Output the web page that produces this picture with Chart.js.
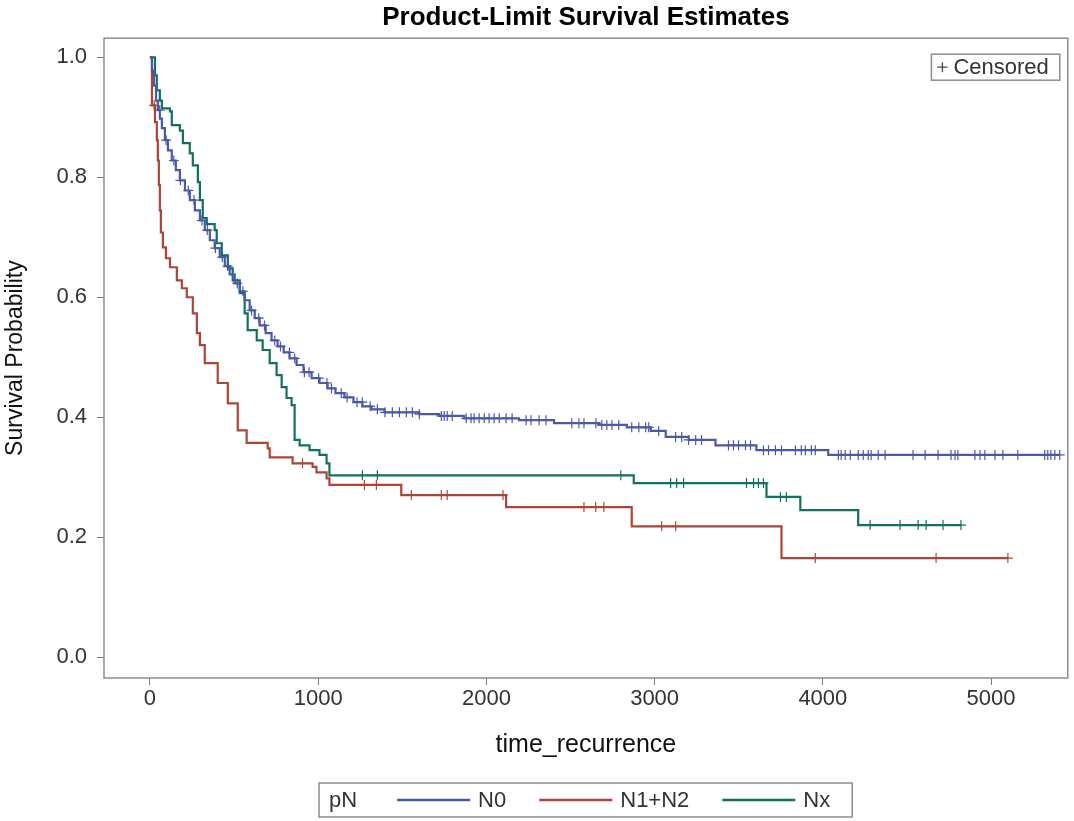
<!DOCTYPE html>
<html>
<head>
<meta charset="utf-8">
<title>Product-Limit Survival Estimates</title>
<script src="https://cdn.jsdelivr.net/npm/chart.js@4.4.1/dist/chart.umd.min.js"></script>
<style>
  html, body { margin: 0; padding: 0; background: #fff; }
  #wrap { width: 1074px; height: 821px; }
</style>
</head>
<body>
<div id="wrap"><canvas id="km" width="1074" height="821"></canvas></div>
<script>
// groups and tick labels
const groups = ["N0", "N1+N2", "Nx"];
const xTicks = [0, 1000, 2000, 3000, 4000, 5000];
const yTicks = [0.0, 0.2, 0.4, 0.6, 0.8, 1.0];

// N0 - step points (time, survival)
const n0Time = [0, 12, 24, 36, 47, 59, 71, 89, 107, 130, 154, 178, 208, 237, 267, 297, 326, 356, 385, 415,
  445, 474, 504, 534, 563, 593, 623, 652, 688, 723, 759, 795, 830, 872, 913, 961, 1008, 1056, 1103, 1156,
  1210, 1263, 1317, 1394, 1601, 1720, 1868, 2194, 2402, 2669, 2835, 2977, 3066, 3202, 3362, 3605, 4032, 5408];
const n0Surv = [1.0, 0.978, 0.953, 0.928, 0.912, 0.898, 0.882, 0.862, 0.845, 0.828, 0.812, 0.795, 0.778, 0.762, 0.745, 0.728, 0.712, 0.695, 0.682, 0.667,
  0.652, 0.638, 0.623, 0.61, 0.595, 0.578, 0.565, 0.553, 0.54, 0.528, 0.518, 0.508, 0.498, 0.487, 0.475, 0.465, 0.457, 0.448, 0.44, 0.433,
  0.425, 0.418, 0.413, 0.408, 0.405, 0.402, 0.398, 0.395, 0.39, 0.387, 0.383, 0.377, 0.367, 0.362, 0.353, 0.345, 0.337, 0.337];
const n0Censor = [58, 96, 142, 181, 228, 262, 309, 341, 389, 430, 462, 519, 553, 604, 647, 681, 742, 776, 829, 861,
  918, 946, 1003, 1052, 1079, 1137, 1172, 1231, 1262, 1309, 1352, 1397, 1441, 1483, 1524, 1560, 1601, 1732, 1749, 1767,
  1797, 1880, 1909, 1927, 1957, 1987, 2016, 2046, 2076, 2117, 2153, 2236, 2265, 2313, 2354, 2508, 2550, 2580, 2651, 2686,
  2716, 2746, 2787, 2864, 2906, 2947, 2965, 3024, 3125, 3161, 3202, 3244, 3279, 3439, 3469, 3499, 3540, 3570, 3647, 3677,
  3718, 3754, 3837, 3872, 3896, 3932, 3955, 4092, 4109, 4133, 4163, 4210, 4240, 4270, 4287, 4329, 4370, 4536, 4608, 4685,
  4762, 4786, 4803, 4904, 4934, 4963, 5023, 5070, 5159, 5319, 5337, 5355, 5379, 5408];

// N1+N2
const n12Time = [0, 12, 30, 41, 47, 53, 59, 65, 77, 95, 119, 160, 190, 219, 255, 279, 297, 326, 403, 463,
  522, 575, 700, 712, 848, 967, 990, 1050, 1067, 1494, 2117, 2864, 3754, 5100];
const n12Surv = [1.0, 0.92, 0.892, 0.862, 0.828, 0.787, 0.745, 0.708, 0.683, 0.665, 0.65, 0.628, 0.615, 0.6, 0.573, 0.54, 0.52, 0.49, 0.457, 0.423,
  0.378, 0.357, 0.348, 0.333, 0.323, 0.317, 0.308, 0.298, 0.287, 0.27, 0.25, 0.218, 0.165, 0.165];
const n12Censor = [25, 907, 1275, 1346, 1554, 1732, 1767, 2099, 2580, 2650, 2698, 3042, 3125, 3955, 4673, 5100];

// Nx
const nxTime = [0, 30, 41, 59, 71, 119, 130, 178, 196, 237, 255, 285, 297, 314, 338, 385, 397, 427, 463, 492,
  534, 563, 581, 635, 670, 712, 753, 783, 812, 842, 860, 890, 949, 1008, 1050, 1067, 2876, 3665, 3866, 4210, 4821];
const nxSurv = [1.0, 0.97, 0.945, 0.928, 0.915, 0.91, 0.887, 0.878, 0.857, 0.84, 0.82, 0.792, 0.762, 0.732, 0.722, 0.712, 0.69, 0.67, 0.648, 0.628,
  0.607, 0.573, 0.545, 0.528, 0.512, 0.49, 0.47, 0.45, 0.432, 0.42, 0.362, 0.353, 0.345, 0.337, 0.323, 0.303, 0.29, 0.267, 0.245, 0.22, 0.22];
const nxCensor = [1263, 1352, 2799, 3095, 3131, 3172, 3546, 3588, 3617, 3647, 3748, 3783, 4281, 4459, 4566, 4614, 4714, 4821];

const colors = ["#4a58a6", "#ad4536", "#12715c"];
const FONT = '"Liberation Sans", Arial, sans-serif';

function stepPoints(times, surv) {
  return times.map((t, i) => ({ x: t, y: surv[i] }));
}

// survival value of the step curve at time t (for placing the + marks)
function survAt(times, surv, t) {
  let s = surv[0];
  for (let i = 0; i < times.length; i++) {
    if (times[i] <= t) s = surv[i];
    else break;
  }
  return s;
}

function censorPoints(times, surv, cens) {
  return cens.map((t) => ({ x: t, y: survAt(times, surv, t) }));
}

const curves = [
  [n0Time, n0Surv, n0Censor],
  [n12Time, n12Surv, n12Censor],
  [nxTime, nxSurv, nxCensor],
];

const datasets = [];
curves.forEach((c, i) => {
  datasets.push({
    label: groups[i],
    data: stepPoints(c[0], c[1]),
    stepped: "before",
    borderColor: colors[i],
    borderWidth: 2.2,
    pointRadius: 0,
    fill: false,
  });
});
curves.forEach((c, i) => {
  datasets.push({
    label: groups[i] + " censored",
    data: censorPoints(c[0], c[1], c[2]),
    showLine: false,
    pointStyle: "cross",
    pointRadius: 5,
    pointBorderWidth: 1.2,
    borderColor: colors[i],
    backgroundColor: colors[i],
  });
});

// frame round the plot area
const frame = {
  id: "frame",
  beforeDatasetsDraw(chart) {
    const { ctx, chartArea: a } = chart;
    ctx.save();
    ctx.strokeStyle = "#8d8d8d";
    ctx.lineWidth = 1.5;
    ctx.strokeRect(a.left, a.top, a.right - a.left, a.bottom - a.top);
    ctx.restore();
  },
};

// "+ Censored" key, top right inside the plot
const censorKey = {
  id: "censorKey",
  afterDatasetsDraw(chart) {
    const { ctx, chartArea: a } = chart;
    ctx.save();
    ctx.font = "22px " + FONT;
    const label = "Censored";
    const w = ctx.measureText(label).width;
    const boxW = w + 33, boxH = 26;
    const x0 = a.right - 8 - boxW, y0 = a.top + 16;
    ctx.fillStyle = "#fff";
    ctx.fillRect(x0, y0, boxW, boxH);
    ctx.strokeStyle = "#8d8d8d";
    ctx.lineWidth = 1.5;
    ctx.strokeRect(x0, y0, boxW, boxH);
    const px = x0 + 11, py = y0 + boxH / 2;
    ctx.strokeStyle = "#444";
    ctx.lineWidth = 1.3;
    ctx.beginPath();
    ctx.moveTo(px - 5, py); ctx.lineTo(px + 5, py);
    ctx.moveTo(px, py - 5); ctx.lineTo(px, py + 5);
    ctx.stroke();
    ctx.fillStyle = "#333";
    ctx.textBaseline = "middle";
    ctx.fillText(label, x0 + 22, py + 1);
    ctx.restore();
  },
};

// group legend at the bottom
const groupKey = {
  id: "groupKey",
  afterDraw(chart) {
    const { ctx, chartArea: a } = chart;
    ctx.save();
    ctx.font = "22px " + FONT;
    const title = "pN";
    const sampleW = 73, gapTitle = 40, gapLabel = 8, gapItem = 33, padL = 10, padR = 22;
    let total = padL + ctx.measureText(title).width + gapTitle;
    groups.forEach((g, i) => {
      total += sampleW + gapLabel + ctx.measureText(g).width + (i < groups.length - 1 ? gapItem : padR);
    });
    const x0 = Math.round((a.left + a.right) / 2 - total / 2);
    const y0 = chart.height - 38, h = 34;
    ctx.strokeStyle = "#8d8d8d";
    ctx.lineWidth = 1.5;
    ctx.strokeRect(x0, y0, total, h);
    const cy = y0 + h / 2;
    ctx.fillStyle = "#333";
    ctx.textBaseline = "middle";
    let x = x0 + padL;
    ctx.fillText(title, x, cy + 1);
    x += ctx.measureText(title).width + gapTitle;
    groups.forEach((g, i) => {
      ctx.strokeStyle = colors[i];
      ctx.lineWidth = 2.5;
      ctx.beginPath();
      ctx.moveTo(x, cy);
      ctx.lineTo(x + sampleW, cy);
      ctx.stroke();
      x += sampleW + gapLabel;
      ctx.fillStyle = "#333";
      ctx.fillText(g, x, cy + 1);
      x += ctx.measureText(g).width + gapItem;
    });
    ctx.restore();
  },
};

new Chart(document.getElementById("km"), {
  type: "line",
  data: { datasets: datasets },
  options: {
    responsive: false,
    animation: false,
    layout: { padding: { left: 0, right: 4, top: 0, bottom: 60 } },
    plugins: {
      legend: { display: false },
      tooltip: { enabled: false },
      title: {
        display: true,
        text: "Product-Limit Survival Estimates",
        fullSize: false,
        color: "#000",
        font: { family: FONT, size: 26, weight: "bold" },
        padding: { top: 2, bottom: 5 },
      },
    },
    scales: {
      x: {
        type: "linear",
        min: -273,
        max: 5456,
        afterBuildTicks: (axis) => { axis.ticks = xTicks.map((v) => ({ value: v })); },
        afterFit: (axis) => { axis.height = 83; },
        border: { display: false },
        grid: { drawOnChartArea: false, drawTicks: true, tickLength: 7, color: "#777" },
        ticks: { color: "#333", padding: 1, maxRotation: 0, font: { family: FONT, size: 22 }, callback: (v) => v },
        title: { display: true, text: "time_recurrence", color: "#111", padding: { top: 2, bottom: 1 }, font: { family: FONT, size: 25 } },
      },
      y: {
        min: -0.035,
        max: 1.032,
        afterBuildTicks: (axis) => { axis.ticks = yTicks.map((v) => ({ value: v })); },
        afterFit: (axis) => { axis.width = 104; },
        border: { display: false },
        grid: { drawOnChartArea: false, drawTicks: true, tickLength: 7, color: "#777" },
        ticks: { color: "#333", padding: 10, font: { family: FONT, size: 22 }, callback: (v) => Number(v).toFixed(1) },
        title: { display: true, text: "Survival Probability", color: "#111", padding: { top: 2, bottom: 0 }, font: { family: FONT, size: 23 } },
      },
    },
  },
  plugins: [frame, censorKey, groupKey],
});
</script>
</body>
</html>
